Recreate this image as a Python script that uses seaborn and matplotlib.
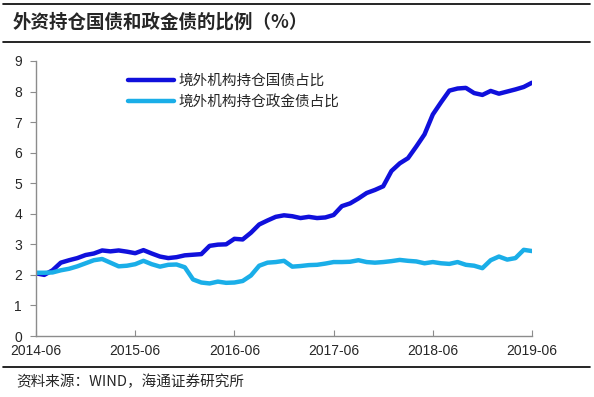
import numpy as np
import pandas as pd
import matplotlib
matplotlib.use("Agg")
import matplotlib.pyplot as plt
import seaborn as sns
from matplotlib.lines import Line2D

title = "外资持仓国债和政金债的比例（%）"
source = "资料来源：WIND，海通证券研究所"
series_names = ["境外机构持仓国债占比", "境外机构持仓政金债占比"]
tick_labels = ["2014-06", "2015-06", "2016-06", "2017-06", "2018-06", "2019-06"]
months = pd.date_range("2014-06-01", "2019-06-01", freq="MS")

gov_bond = [2.05, 2.00, 2.15, 2.40, 2.48, 2.55, 2.65, 2.70, 2.80, 2.77,
            2.80, 2.76, 2.71, 2.81, 2.70, 2.60, 2.55, 2.58, 2.64, 2.66,
            2.68, 2.95, 2.99, 3.00, 3.18, 3.16, 3.38, 3.65, 3.78, 3.90,
            3.95, 3.92, 3.86, 3.90, 3.86, 3.88, 3.96, 4.25, 4.34, 4.50,
            4.68, 4.78, 4.90, 5.40, 5.65, 5.82, 6.20, 6.60, 7.25, 7.65,
            8.03, 8.10, 8.12, 7.95, 7.89, 8.02, 7.93, 8.00, 8.07, 8.15,
            8.29]
policy_bond = [2.07, 2.07, 2.08, 2.15, 2.20, 2.28, 2.38, 2.48, 2.52, 2.40,
               2.28, 2.30, 2.35, 2.46, 2.35, 2.27, 2.33, 2.34, 2.25, 1.85,
               1.75, 1.72, 1.78, 1.74, 1.75, 1.80, 1.98, 2.30, 2.40, 2.42,
               2.46, 2.27, 2.29, 2.32, 2.33, 2.37, 2.42, 2.42, 2.43, 2.48,
               2.42, 2.40, 2.42, 2.45, 2.49, 2.46, 2.44, 2.38, 2.42, 2.38,
               2.36, 2.42, 2.33, 2.30, 2.22, 2.48, 2.60, 2.50, 2.55, 2.82,
               2.78]
colors = ["#1010DC", "#1AAEE8"]

idx = np.arange(len(months))
df = pd.concat([
    pd.DataFrame({"m": idx, "v": gov_bond, "s": series_names[0]}),
    pd.DataFrame({"m": idx, "v": policy_bond, "s": series_names[1]}),
])

sns.set_style("white")
plt.rcParams['font.family'] = ['Liberation Sans', 'Noto Sans CJK SC', 'DejaVu Sans']

fig = plt.figure(figsize=(5.94, 3.97), dpi=100)
ax = fig.add_axes([36/594, 1-336/397, 496/594, 275/397])
sns.lineplot(data=df, x="m", y="v", hue="s", palette=colors, linewidth=3.2,
             ax=ax, legend=False)

ax.set_xlim(0, 60)
ax.set_ylim(0, 9)
ax.set_yticks(range(0, 10))
tick_pos = [i for i, d in enumerate(months) if d.month == 6]
ax.set_xticks(tick_pos)
ax.set_xticklabels(tick_labels)
ax.set_xlabel("")
ax.set_ylabel("")
for s in ["top", "right"]:
    ax.spines[s].set_visible(False)
for s in ["left", "bottom"]:
    ax.spines[s].set_color("#8c8c8c")
    ax.spines[s].set_linewidth(1.0)
ax.tick_params(axis="y", direction="out", length=4, color="#8c8c8c",
               labelsize=10, pad=6, left=True)
ax.tick_params(axis="x", direction="in", length=4, color="#8c8c8c",
               labelsize=10, pad=6, bottom=True)

handles = [Line2D([0], [0], color=c, lw=3.2) for c in colors]
leg = ax.legend(handles, series_names, loc="upper left",
                bbox_to_anchor=(0.16, 1.0), frameon=False,
                prop={"family": ["Noto Sans CJK SC"], "size": 10.5},
                handlelength=3.1, labelspacing=0.45, handletextpad=0.3)

fig.text(13/594, 1-22/397, title, fontsize=13.3, fontweight="bold",
         family=["Noto Sans CJK SC", "DejaVu Sans"], va="center", ha="left")
fig.text(16/594, 1-382/397, source, fontsize=10.5,
         family=["Noto Sans CJK SC", "DejaVu Sans"], va="center", ha="left")
for yy in [4, 42, 367]:
    fig.add_artist(Line2D([3/594, 590/594], [1-yy/397, 1-yy/397],
                          color="black", lw=1.2, transform=fig.transFigure))

fig.savefig("out.png", dpi=100)
